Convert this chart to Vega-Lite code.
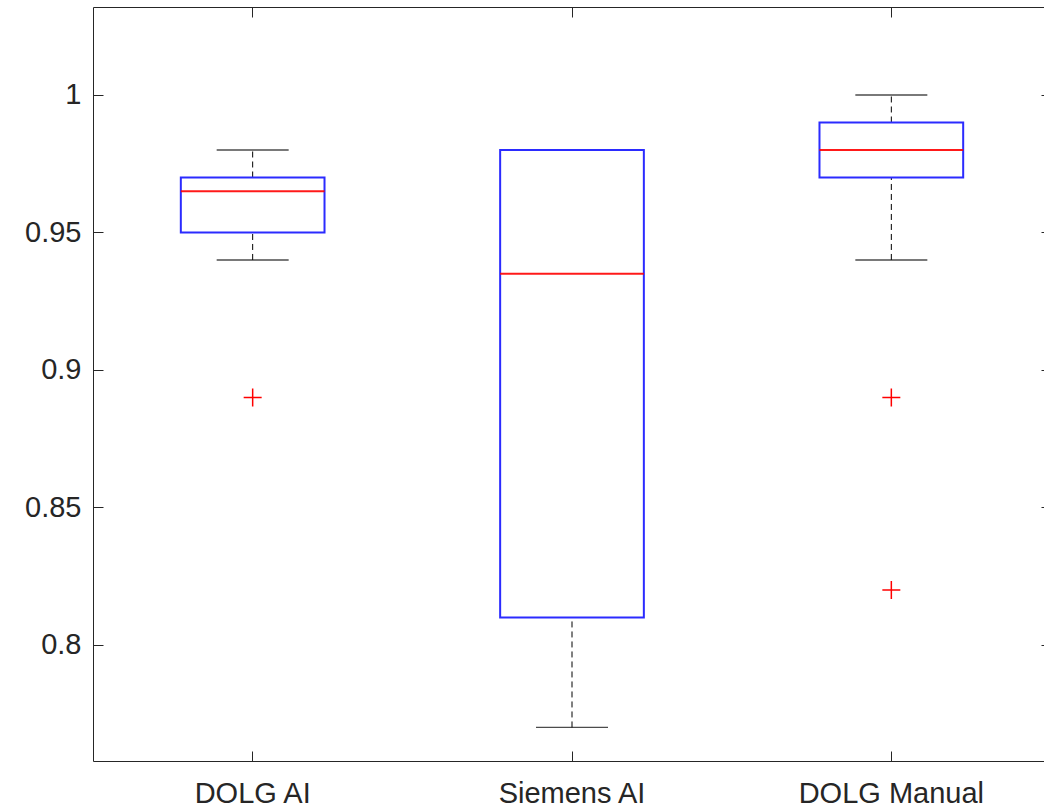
{
  "$schema": "https://vega.github.io/schema/vega-lite/v6.json",
  "autosize": {"type": "none"},
  "padding": {"left": 93, "top": 7, "right": 0, "bottom": 48},
  "width": 958,
  "height": 754,
  "background": "white",
  "view": {"stroke": null},
  "config": {
    "axis": {
      "grid": false,
      "domainColor": "#262626",
      "domainWidth": 1,
      "tickColor": "#262626",
      "tickWidth": 1,
      "tickSize": -10,
      "labelColor": "#262626",
      "labelFont": "Liberation Sans",
      "labelFontSize": 29,
      "labelLimit": 0,
      "title": null
    }
  },
  "datasets": {
    "boxes": [
      {"group": "DOLG AI", "lower": 0.94, "q1": 0.95, "median": 0.965, "q3": 0.97, "upper": 0.98},
      {"group": "Siemens AI", "lower": 0.77, "q1": 0.81, "median": 0.935, "q3": 0.98, "upper": 0.98},
      {"group": "DOLG Manual", "lower": 0.94, "q1": 0.97, "median": 0.98, "q3": 0.99, "upper": 1.0}
    ],
    "outliers": [
      {"group": "DOLG AI", "value": 0.89},
      {"group": "DOLG Manual", "value": 0.89},
      {"group": "DOLG Manual", "value": 0.82}
    ]
  },
  "resolve": {"axis": {"x": "independent", "y": "independent"}},
  "layer": [
    {
      "data": {"name": "boxes"},
      "mark": {"type": "rule", "color": "black", "strokeWidth": 1, "strokeDash": [6, 4]},
      "encoding": {
        "x": {"field": "group", "type": "nominal", "sort": ["DOLG AI", "Siemens AI", "DOLG Manual"],
              "scale": {"type": "band", "paddingInner": 0, "paddingOuter": 0},
              "axis": {"orient": "bottom", "labelAngle": 0, "labelPadding": 28}},
        "y": {"field": "q3", "type": "quantitative",
              "scale": {"domain": [0.7578, 1.032], "nice": false, "zero": false},
              "axis": {"orient": "left", "values": [0.8, 0.85, 0.9, 0.95, 1], "format": "~g", "labelPadding": 22}},
        "y2": {"field": "upper"}
      }
    },
    {
      "data": {"name": "boxes"},
      "mark": {"type": "rule", "color": "black", "strokeWidth": 1, "strokeDash": [6, 4]},
      "encoding": {
        "x": {"field": "group", "type": "nominal", "sort": ["DOLG AI", "Siemens AI", "DOLG Manual"], "axis": null},
        "y": {"field": "lower", "type": "quantitative", "axis": null},
        "y2": {"field": "q1"}
      }
    },
    {
      "data": {"name": "boxes"},
      "mark": {"type": "tick", "color": "black", "size": 72, "thickness": 1.3, "orient": "horizontal"},
      "encoding": {
        "x": {"field": "group", "type": "nominal", "sort": ["DOLG AI", "Siemens AI", "DOLG Manual"], "axis": null},
        "y": {"field": "upper", "type": "quantitative", "axis": null}
      }
    },
    {
      "data": {"name": "boxes"},
      "mark": {"type": "tick", "color": "black", "size": 72, "thickness": 1.3, "orient": "horizontal"},
      "encoding": {
        "x": {"field": "group", "type": "nominal", "sort": ["DOLG AI", "Siemens AI", "DOLG Manual"], "axis": null},
        "y": {"field": "lower", "type": "quantitative", "axis": null}
      }
    },
    {
      "data": {"name": "boxes"},
      "mark": {"type": "bar", "fill": "white", "fillOpacity": 0, "stroke": "#2b2bff", "strokeWidth": 2, "strokeOpacity": 1, "width": {"band": 0.45}},
      "encoding": {
        "x": {"field": "group", "type": "nominal", "sort": ["DOLG AI", "Siemens AI", "DOLG Manual"], "axis": null},
        "y": {"field": "q1", "type": "quantitative", "axis": null},
        "y2": {"field": "q3"}
      }
    },
    {
      "data": {"name": "boxes"},
      "mark": {"type": "tick", "color": "#ff0000", "size": 143.7, "thickness": 1.8, "opacity": 0.9, "orient": "horizontal"},
      "encoding": {
        "x": {"field": "group", "type": "nominal", "sort": ["DOLG AI", "Siemens AI", "DOLG Manual"], "axis": null},
        "y": {"field": "median", "type": "quantitative", "axis": null}
      }
    },
    {
      "data": {"name": "outliers"},
      "mark": {"type": "point", "shape": "M-1,0H1M0,-1V1", "filled": false, "stroke": "#ff0000", "strokeWidth": 1.5, "size": 324, "opacity": 1},
      "encoding": {
        "x": {"field": "group", "type": "nominal", "sort": ["DOLG AI", "Siemens AI", "DOLG Manual"],
              "axis": {"orient": "top", "labels": false}},
        "y": {"field": "value", "type": "quantitative",
              "axis": {"orient": "right", "labels": false, "values": [0.8, 0.85, 0.9, 0.95, 1]}}
      }
    }
  ]
}
